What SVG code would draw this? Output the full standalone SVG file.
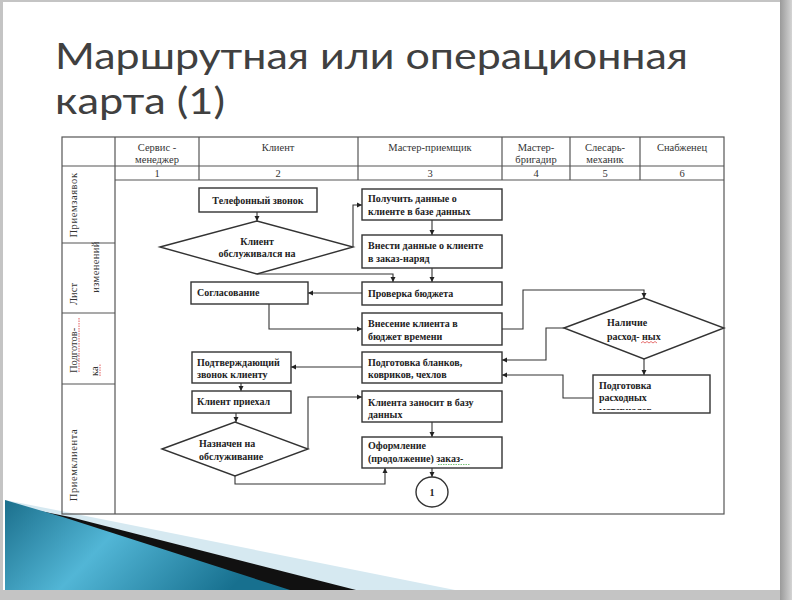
<svg xmlns="http://www.w3.org/2000/svg" width="792" height="600" viewBox="0 0 792 600">
<defs>
<linearGradient id="shadowR" x1="0" y1="0" x2="1" y2="0"><stop offset="0" stop-color="#9a9a9a"/><stop offset="1" stop-color="#d4d4d4"/></linearGradient>
<linearGradient id="teal" x1="0" y1="0" x2="1" y2="0.3"><stop offset="0" stop-color="#1b6f8c"/><stop offset="0.45" stop-color="#52b6d6"/><stop offset="1" stop-color="#17708f"/></linearGradient>
<marker id="ah" markerWidth="6" markerHeight="6" refX="5" refY="3" orient="auto" markerUnits="userSpaceOnUse"><path d="M0,0.5 L5,3 L0,5.5 Z" fill="#222"/></marker>
<clipPath id="clipMat"><rect x="593" y="375" width="117" height="35"/></clipPath>
</defs>
<style>
.tbl{fill:none;stroke:#555;stroke-width:1.2}
.box{fill:#fff;stroke:#333;stroke-width:1.4}
.hd{font-family:"Liberation Serif","Times New Roman",serif;font-size:10.5px;fill:#333;text-anchor:middle}
.nt{font-family:"Liberation Serif","Times New Roman",serif;font-size:10px;font-weight:bold;fill:#222}
.ct{text-anchor:middle}
.lb{font-family:"Liberation Serif","Times New Roman",serif;font-size:10.5px;fill:#333}
.cn{fill:none;stroke:#333;stroke-width:1.1;marker-end:url(#ah)}
.title{font-family:Lato,"Open Sans","Noto Sans",sans-serif;font-size:36px;fill:#404040}
</style>
<rect x="0" y="0" width="792" height="600" fill="#c4c4c4"/>
<rect x="780" y="0" width="12" height="600" fill="url(#shadowR)"/>
<rect x="3" y="2" width="777" height="588" fill="#ffffff"/>
<!-- swoosh -->
<polygon points="5,500 66,512 455,590 5,590" fill="#d6e9f1"/>
<polygon points="5,504 70,517 356,590 5,590" fill="#111"/>
<polygon points="5,500 66,518 290,590 5,590" fill="url(#teal)"/>
<!-- title -->
<text class="title" x="55" y="69" textLength="633" lengthAdjust="spacingAndGlyphs">Маршрутная или операционная</text>
<text class="title" x="55" y="114" textLength="170" lengthAdjust="spacingAndGlyphs">карта (1)</text>
<!-- table -->
<g id="table">
<rect class="tbl" x="62" y="137" width="662" height="377" fill="#fff"/>
<line class="tbl" x1="115" y1="137" x2="115" y2="514"/>
<line class="tbl" x1="62" y1="166" x2="724" y2="166"/>
<line class="tbl" x1="115" y1="180" x2="724" y2="180"/>
<line class="tbl" x1="62" y1="243" x2="115" y2="243"/>
<line class="tbl" x1="62" y1="313" x2="115" y2="313"/>
<line class="tbl" x1="62" y1="384" x2="115" y2="384"/>
<line class="tbl" x1="199" y1="137" x2="199" y2="180"/>
<line class="tbl" x1="358" y1="137" x2="358" y2="180"/>
<line class="tbl" x1="502" y1="137" x2="502" y2="180"/>
<line class="tbl" x1="570" y1="137" x2="570" y2="180"/>
<line class="tbl" x1="640" y1="137" x2="640" y2="180"/>
<text class="hd" x="157" y="151">Сервис -</text>
<text class="hd" x="157" y="163">менеджер</text>
<text class="hd" x="278" y="151">Клиент</text>
<text class="hd" x="430" y="151">Мастер-приемщик</text>
<text class="hd" x="536" y="151">Мастер-</text>
<text class="hd" x="536" y="163">бригадир</text>
<text class="hd" x="605" y="151">Слесарь-</text>
<text class="hd" x="605" y="163">механик</text>
<text class="hd" x="682" y="151">Снабженец</text>
<text class="hd" x="157" y="177">1</text>
<text class="hd" x="278" y="177">2</text>
<text class="hd" x="430" y="177">3</text>
<text class="hd" x="536" y="177">4</text>
<text class="hd" x="605" y="177">5</text>
<text class="hd" x="682" y="177">6</text>
<text class="lb" transform="translate(77,205) rotate(-90)" text-anchor="middle" letter-spacing="0.6">Приемзаявок</text>
<text class="lb" transform="translate(77,305) rotate(-90)">Лист</text>
<text class="lb" transform="translate(99,267) rotate(-90)" text-anchor="middle" letter-spacing="0.4">изменений</text>
<text class="lb" transform="translate(77,373) rotate(-90)">Подготов-</text>
<text class="lb" transform="translate(98,376) rotate(-90)">ка</text>
<line x1="79" y1="372" x2="79" y2="318" stroke="#d33" stroke-width="0.8" stroke-dasharray="1.5,1"/>
<line x1="100" y1="376" x2="100" y2="364" stroke="#d33" stroke-width="0.8" stroke-dasharray="1.5,1"/>
<text class="lb" transform="translate(77,465) rotate(-90)" text-anchor="middle" letter-spacing="0.6">Приемклиента</text>
</g>
<!-- connectors -->
<g id="connectors">
<path class="cn" d="M257,212 V221"/>
<path class="cn" d="M353,247 V205 H362"/>
<path class="cn" d="M432,220 V235"/>
<path class="cn" d="M432,268 V282"/>
<path class="cn" d="M257,274 H393 V282"/>
<path class="cn" d="M362,293 H308"/>
<path class="cn" d="M269,304 V329 H362"/>
<path class="cn" d="M502,329 H523 V290 H644 V298"/>
<path class="cn" d="M564,328 H546 V360 H502"/>
<path class="cn" d="M644,359 V375"/>
<path class="cn" d="M593,398 H563 V375 H502"/>
<path class="cn" d="M362,367 H291"/>
<path class="cn" d="M241,383 V391"/>
<path class="cn" d="M236,413 V422"/>
<path class="cn" d="M308,449 V397 H362"/>
<path class="cn" d="M432,422 V437"/>
<path class="cn" d="M235,476 V484 H385 V468"/>
<path class="cn" d="M432,468 V477"/>
</g>
<!-- nodes -->
<g id="n-phone"><rect class="box" x="199" y="188" width="118" height="24"/><text class="nt ct" x="258" y="204">Телефонный звонок</text></g>
<g id="n-served"><polygon class="box" points="160,247 257,221 353,247 257,274"/><text class="nt ct" x="257" y="245">Клиент</text><text class="nt ct" x="257" y="257">обслуживался на</text></g>
<g id="n-getdata"><rect class="box" x="362" y="189" width="140" height="31"/><text class="nt" x="368" y="202">Получить данные о</text><text class="nt" x="368" y="215">клиенте в базе данных</text></g>
<g id="n-enterdata"><rect class="box" x="362" y="235" width="140" height="33"/><text class="nt" x="368" y="249">Внести данные о клиенте</text><text class="nt" x="368" y="262">в заказ-наряд</text></g>
<g id="n-budget"><rect class="box" x="362" y="282" width="140" height="23"/><text class="nt" x="368" y="297">Проверка бюджета</text></g>
<g id="n-agree"><rect class="box" x="191" y="282" width="117" height="22"/><text class="nt" x="197" y="296">Согласование</text></g>
<g id="n-timebudget"><rect class="box" x="362" y="313" width="140" height="32"/><text class="nt" x="368" y="327">Внесение клиента в</text><text class="nt" x="368" y="340">бюджет времени</text></g>
<g id="n-avail"><polygon class="box" points="564,328 644,298 724,328 644,359"/><text class="nt" x="607" y="326">Наличие</text><text class="nt" x="607" y="340">расход- ных</text><path d="M641,343 l2,-1.5 l2,1.5 l2,-1.5 l2,1.5 l2,-1.5 l2,1.5 l2,-1.5 l2,1.5" fill="none" stroke="#d33" stroke-width="0.7"/></g>
<g id="n-materials"><rect class="box" x="593" y="375" width="117" height="38"/><g clip-path="url(#clipMat)"><text class="nt" x="599" y="389">Подготовка</text><text class="nt" x="599" y="401">расходных</text><text class="nt" x="599" y="414">материалов</text></g></g>
<g id="n-forms"><rect class="box" x="362" y="352" width="140" height="31"/><text class="nt" x="368" y="366">Подготовка бланков,</text><text class="nt" x="368" y="378">ковриков, чехлов</text></g>
<g id="n-confirm"><rect class="box" x="192" y="352" width="99" height="31"/><text class="nt" x="197" y="366">Подтверждающий</text><text class="nt" x="197" y="378">звонок клиенту</text></g>
<g id="n-arrived"><rect class="box" x="192" y="391" width="99" height="22"/><text class="nt" x="197" y="405">Клиент приехал</text></g>
<g id="n-assigned"><polygon class="box" points="162,449 235,422 308,449 235,476"/><text class="nt" x="199" y="447">Назначен на</text><text class="nt" x="199" y="460">обслуживание</text></g>
<g id="n-database"><rect class="box" x="362" y="391" width="140" height="31"/><text class="nt" x="368" y="406">Клиента заносит в базу</text><text class="nt" x="368" y="418">данных</text></g>
<g id="n-order"><rect class="box" x="362" y="437" width="140" height="31"/><text class="nt" x="368" y="449">Оформление</text><text class="nt" x="368" y="462">(продолжение) заказ-</text><line x1="438" y1="464.5" x2="470" y2="464.5" stroke="#4a4" stroke-width="0.7" stroke-dasharray="1.5,1"/></g>
<g id="n-connector1"><ellipse class="box" cx="432" cy="492" rx="16" ry="15"/><text class="nt ct" x="432" y="496" font-weight="normal">1</text></g>
</svg>
